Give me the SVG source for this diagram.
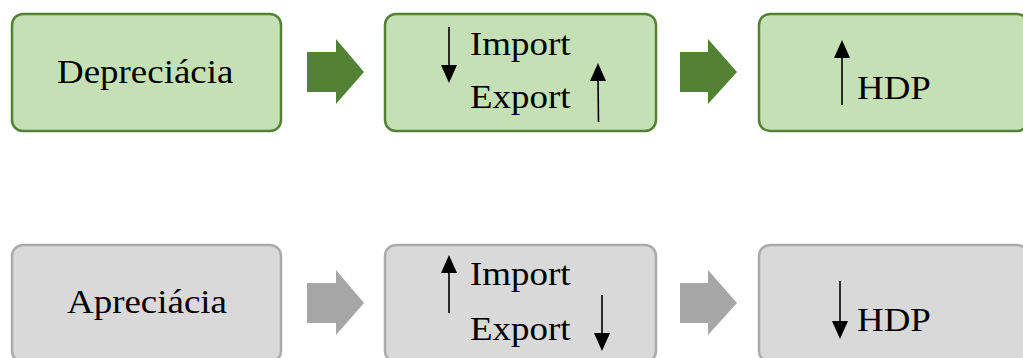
<svg xmlns="http://www.w3.org/2000/svg" width="1023" height="358" viewBox="0 0 1023 358">
<style>
.g{fill:#C5E0B4;stroke:#548235;stroke-width:2.5}
.s{fill:#D9D9D9;stroke:#ABABAB;stroke-width:2.5}
.t{font-family:'Liberation Serif','Times New Roman',serif;font-size:33px;fill:#000}
.ar{stroke:#000;stroke-width:1.6;fill:none}
.ah{fill:#000}
.bg{fill:#548235}
.bs{fill:#A6A6A6}
</style>
<rect width="1023" height="358" fill="#fff"/>
<g id="depreciacia">
<rect class="g" x="12" y="14" width="269" height="117" rx="11"/>
<text class="t" transform="translate(57,83) scale(1.12,1)">Depreciácia</text>
</g>
<g id="import-export-top">
<rect class="g" x="385" y="14" width="271" height="117" rx="11"/>
<line class="ar" x1="449" y1="27" x2="449" y2="68"/>
<polygon class="ah" points="441,65 457,65 449,83"/>
<text class="t" transform="translate(470,55) scale(1.12,1)">Import</text>
<text class="t" transform="translate(470,108) scale(1.12,1)">Export</text>
<line class="ar" x1="598.5" y1="122" x2="598" y2="78"/>
<polygon class="ah" points="590,81 606,81 598,63"/>
</g>
<g id="hdp-top">
<rect class="g" x="759" y="14" width="269" height="117" rx="11"/>
<line class="ar" x1="842" y1="105" x2="842" y2="55"/>
<polygon class="ah" points="834,58 850,58 842,40"/>
<text class="t" transform="translate(857,99) scale(1.12,1)">HDP</text>
</g>
<g id="apreciacia">
<rect class="s" x="12" y="245" width="269" height="117" rx="11"/>
<text class="t" transform="translate(67,313) scale(1.12,1)">Apreciácia</text>
</g>
<g id="import-export-bottom">
<rect class="s" x="385" y="245" width="271" height="117" rx="11"/>
<line class="ar" x1="449" y1="313" x2="449" y2="270"/>
<polygon class="ah" points="441,273 457,273 449,255"/>
<text class="t" transform="translate(470,285) scale(1.12,1)">Import</text>
<text class="t" transform="translate(470,340) scale(1.12,1)">Export</text>
<line class="ar" x1="602" y1="295" x2="602" y2="336"/>
<polygon class="ah" points="594,333 610,333 602,351"/>
</g>
<g id="hdp-bottom">
<rect class="s" x="759" y="245" width="269" height="117" rx="11"/>
<line class="ar" x1="840" y1="281" x2="840" y2="324"/>
<polygon class="ah" points="832,321 848,321 840,339"/>
<text class="t" transform="translate(857,331) scale(1.12,1)">HDP</text>
</g>
<g id="connectors">
<polygon class="bg" points="307,52 336,52 336,39 364,72 336,104 336,92 307,92"/>
<polygon class="bg" points="680,52 708,52 708,39 737,72 708,104 708,92 680,92"/>
<polygon class="bs" points="307,283 336,283 336,270 364,303 336,335 336,323 307,323"/>
<polygon class="bs" points="680,283 708,283 708,270 737,303 708,335 708,323 680,323"/>
</g>
</svg>
